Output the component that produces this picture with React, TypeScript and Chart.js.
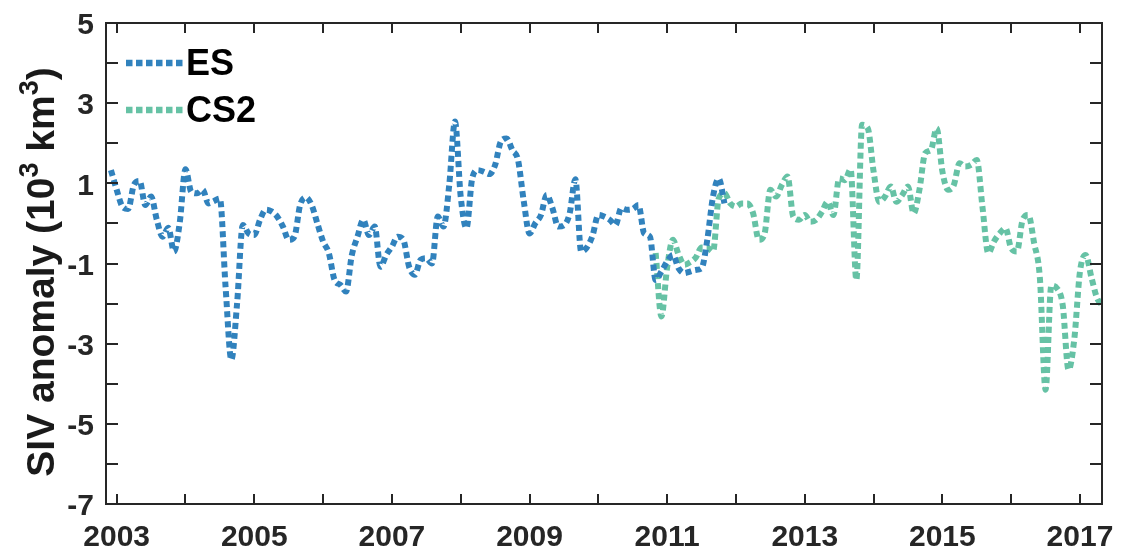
import React, { useEffect, useRef } from "react";
import { Chart, registerables } from "chart.js";

Chart.register(...registerables);

// ---------- data ----------
// Monthly values; the first value of each series sits at startYear + startMonth/12
const esStartYear = 2002;
const esStartMonth = 11;
const esValues = [
  1.33,
  0.84, 0.42, 0.36, 0.96, 1.06, 0.46, 0.67, 0.09, -0.33, -0.11, -0.7, 0.02,
  1.35, 0.79, 0.75, 0.84, 0.5, 0.56, 0.62, -1.6, -3.4, -2.0, -0.04, -0.25,
  -0.29, 0.09, 0.34, 0.3, 0.17, -0.08, -0.41, -0.33, 0.46, 0.65, 0.46, 0.0,
  -0.45, -0.74, -1.41, -1.53, -1.7, -0.8, -0.33, 0.09, -0.29, -0.08, -1.08, -0.79,
  -0.58, -0.33, -0.41, -1.08, -1.28, -0.91, -0.87, -1.0, 0.17, -0.08, 0.96, 2.54,
  0.67, -0.12, 1.12, 1.33, 1.29, 1.23, 1.46, 2.04, 2.12, 1.83, 1.58, 0.55,
  -0.25, 0.0, 0.21, 0.71, 0.38, -0.08, -0.05, 0.25, 1.1, -0.7, -0.6, -0.3,
  0.21, 0.17, 0.09, -0.04, 0.38, 0.34, 0.36, 0.46, -0.25, -0.33, -1.41, -1.2,
  -0.95, -0.79, -1.12, -1.24, -1.2, -1.16, -1.12, -0.41, 0.67, 1.12, 0.5,
];

const cs2StartYear = 2010;
const cs2StartMonth = 10;
const cs2Values = [
  -0.74, -2.32,
  -1.1, -0.41, -0.78, -1.03, -0.97, -0.85, -0.6, -0.6, -0.7, 0.62, 0.75, 0.5,
  0.42, 0.5, 0.5, 0.25, -0.41, -0.25, 0.84, 0.67, 0.96, 1.17, 0.17, 0.09,
  0.21, 0.04, 0.09, 0.29, 0.54, 0.21, 1.12, 1.08, 1.35, -1.41, 2.46, 2.37,
  1.3, 0.54, 0.67, 0.92, 0.54, 0.71, 0.92, 0.25, 0.84, 1.75, 1.83, 2.37,
  1.3, 0.84, 0.96, 1.5, 1.42, 1.46, 1.58, 0.4, -0.74, -0.45, -0.25, -0.12,
  -0.62, -0.7, 0.09, 0.21, -0.49, -1.35, -4.15, -1.55, -1.62, -2.05, -3.65, -2.9,
  -1.2, -0.79, -1.35, -1.87, -2.05,
];

const seriesLabels = ["ES", "CS2"];
const xTickYears = [2003, 2004, 2005, 2006, 2007, 2008, 2009, 2010, 2011, 2012, 2013, 2014, 2015, 2016, 2017];
const xLabelYears = [2003, 2005, 2007, 2009, 2011, 2013, 2015, 2017];
const yTickValues = [-7, -6, -5, -4, -3, -2, -1, 0, 1, 2, 3, 4, 5];
const yLabelValues = [-7, -5, -3, -1, 1, 3, 5];
const xRange = [2002.845, 2017.32];
const yRange = [-7, 5];

const toPoints = (startYear: number, startMonth: number, values: number[]) =>
  values.map((v, i) => ({ x: startYear + (startMonth + i) / 12, y: v }));

const FONT = "'Liberation Sans', Arial, sans-serif";
const AXIS_COLOR = "#262626";
const BLUE = "#3182bd";
const GREEN = "#66c2a5";

const zeroPadding = (s: any) => {
  s.paddingLeft = 0;
  s.paddingRight = 0;
  s.paddingTop = 0;
  s.paddingBottom = 0;
};

const framePlugin = {
  id: "frameTicksLegend",
  afterDraw(chart: any) {
    const { ctx, chartArea } = chart;
    const { left, right, top, bottom } = chartArea;
    const xs = chart.scales.x;
    const ys = chart.scales.y;
    ctx.save();
    // ticks (inward, all four sides)
    ctx.strokeStyle = AXIS_COLOR;
    ctx.lineWidth = 2;
    ctx.beginPath();
    xs.ticks.forEach((t: any) => {
      const px = Math.round(xs.getPixelForValue(t.value));
      ctx.moveTo(px, bottom);
      ctx.lineTo(px, bottom - 10);
      ctx.moveTo(px, top);
      ctx.lineTo(px, top + 10);
    });
    ys.ticks.forEach((t: any) => {
      const py = Math.round(ys.getPixelForValue(t.value));
      ctx.moveTo(left, py);
      ctx.lineTo(left + 12, py);
      ctx.moveTo(right, py);
      ctx.lineTo(right - 12, py);
    });
    ctx.stroke();
    // box
    ctx.strokeRect(left, top, right - left, bottom - top);

    // legend
    const legendRows = [
      { y: 63, color: BLUE, label: chart.data.datasets[0].label },
      { y: 110, color: GREEN, label: chart.data.datasets[1].label },
    ];
    legendRows.forEach((r) => {
      ctx.strokeStyle = r.color;
      ctx.lineWidth = 6.5;
      ctx.setLineDash([6.5, 3.5]);
      ctx.lineCap = "butt";
      ctx.beginPath();
      ctx.moveTo(126, r.y);
      ctx.lineTo(183, r.y);
      ctx.stroke();
      ctx.setLineDash([]);
      ctx.fillStyle = "#000";
      ctx.font = `bold 36px ${FONT}`;
      ctx.textAlign = "left";
      ctx.textBaseline = "middle";
      ctx.fillText(r.label, 186, r.y + 2);
    });

    // y axis title with superscripts
    const big = `bold 39px ${FONT}`;
    const small = `bold 27px ${FONT}`;
    const parts = [
      { t: "SIV anomaly (10", f: big, dy: 0 },
      { t: "3", f: small, dy: -16 },
      { t: " km", f: big, dy: 0 },
      { t: "3", f: small, dy: -16 },
      { t: ")", f: big, dy: 0 },
    ];
    let total = 0;
    const widths = parts.map((p) => {
      ctx.font = p.f;
      const w = ctx.measureText(p.t).width;
      total += w;
      return w;
    });
    ctx.translate(54, 272);
    ctx.rotate(-Math.PI / 2);
    ctx.fillStyle = "#1a1a1a";
    ctx.textAlign = "left";
    ctx.textBaseline = "alphabetic";
    let cx = -total / 2;
    parts.forEach((p, i) => {
      ctx.font = p.f;
      ctx.fillText(p.t, cx, p.dy);
      cx += widths[i];
    });
    ctx.restore();
  },
};

export default function App() {
  const canvasRef = useRef<HTMLCanvasElement | null>(null);

  useEffect(() => {
    document.body.style.margin = "0";
    const canvas = canvasRef.current;
    if (!canvas) return;
    const chart = new Chart(canvas, {
      type: "line",
      data: {
        datasets: [
          {
            label: seriesLabels[0],
            data: toPoints(esStartYear, esStartMonth, esValues),
            borderColor: BLUE,
            borderWidth: 6,
            borderDash: [6, 4],
            borderCapStyle: "butt",
            pointRadius: 0,
            fill: false,
            cubicInterpolationMode: "monotone",
          },
          {
            label: seriesLabels[1],
            data: toPoints(cs2StartYear, cs2StartMonth, cs2Values),
            borderColor: GREEN,
            borderWidth: 6,
            borderDash: [6, 4],
            borderCapStyle: "butt",
            pointRadius: 0,
            fill: false,
            cubicInterpolationMode: "monotone",
          },
        ],
      },
      options: {
        responsive: false,
        animation: false,
        devicePixelRatio: 1,
        layout: { padding: { top: 23, right: 19, left: 0, bottom: 0 } },
        plugins: {
          legend: { display: false },
          tooltip: { enabled: false },
        },
        scales: {
          x: {
            type: "linear",
            min: xRange[0],
            max: xRange[1],
            grid: { display: false, drawTicks: false },
            border: { display: false },
            afterBuildTicks: (s: any) => {
              s.ticks = xTickYears.map((v) => ({ value: v }));
            },
            afterFit: (s: any) => {
              s.height = 51;
              zeroPadding(s);
            },
            ticks: {
              autoSkip: false,
              maxRotation: 0,
              padding: 16,
              color: AXIS_COLOR,
              font: { family: FONT, size: 30, weight: "bold" },
              callback: (v: any) => (xLabelYears.includes(Number(v)) ? String(v) : ""),
            },
          },
          y: {
            type: "linear",
            min: yRange[0],
            max: yRange[1],
            grid: { display: false, drawTicks: false },
            border: { display: false },
            afterBuildTicks: (s: any) => {
              s.ticks = yTickValues.map((v) => ({ value: v }));
            },
            afterFit: (s: any) => {
              s.width = 106;
              zeroPadding(s);
            },
            ticks: {
              autoSkip: false,
              padding: 12,
              labelOffset: 3,
              color: AXIS_COLOR,
              font: { family: FONT, size: 30, weight: "bold" },
              callback: (v: any) => (yLabelValues.includes(Number(v)) ? String(v) : ""),
            },
          },
        },
      },
      plugins: [framePlugin],
    } as any);
    return () => chart.destroy();
  }, []);

  return (
    <div style={{ width: 1121, height: 555, background: "#fff" }}>
      <canvas ref={canvasRef} width={1121} height={555} style={{ display: "block" }} />
    </div>
  );
}
